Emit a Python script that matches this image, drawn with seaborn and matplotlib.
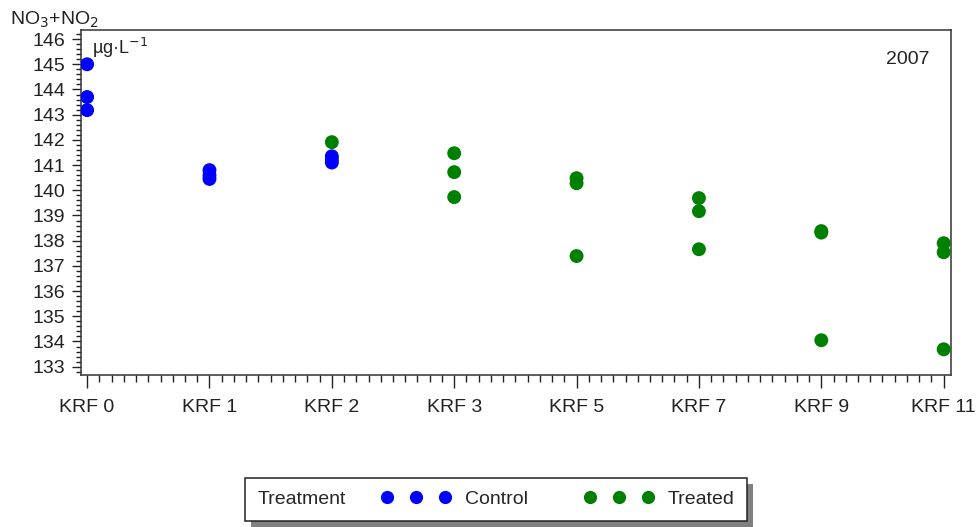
import matplotlib
matplotlib.use("Agg")
import matplotlib.pyplot as plt
from matplotlib.lines import Line2D
from matplotlib.patches import Rectangle
from matplotlib.ticker import MultipleLocator
from matplotlib.offsetbox import HPacker
import pandas as pd
import seaborn as sns

# sites along the x axis
site_labels = ["KRF 0", "KRF 1", "KRF 2", "KRF 3", "KRF 5", "KRF 7", "KRF 9", "KRF 11"]

# control samples (blue)
control_site = ["KRF 0", "KRF 0", "KRF 0", "KRF 1", "KRF 1", "KRF 1", "KRF 2", "KRF 2", "KRF 2"]
control_no3 = [145.0, 143.7, 143.18, 140.8, 140.6, 140.45, 141.35, 141.22, 141.1]

# treated samples (green)
treated_site = ["KRF 2", "KRF 3", "KRF 3", "KRF 3", "KRF 5", "KRF 5", "KRF 5",
                "KRF 7", "KRF 7", "KRF 7", "KRF 9", "KRF 9", "KRF 9",
                "KRF 11", "KRF 11", "KRF 11"]
treated_no3 = [141.91, 141.47, 140.72, 139.73, 140.48, 140.28, 137.39,
               139.69, 139.17, 137.66, 138.38, 138.32, 134.05,
               137.9, 137.54, 133.69]

df = pd.DataFrame({
    "site": control_site + treated_site,
    "no3": control_no3 + treated_no3,
    "Treatment": ["Control"] * len(control_no3) + ["Treated"] * len(treated_no3),
})

sns.set_theme(style="white")
plt.rcParams["font.family"] = ["Liberation Sans", "DejaVu Sans"]

colors = {"Control": "#0000FF", "Treated": "#008000"}

fig = plt.figure(figsize=(9.79, 5.27), dpi=100)
ax = fig.add_axes([81 / 979, 1 - 375 / 527, (951 - 81) / 979, (375 - 30) / 527])

sns.stripplot(data=df, x="site", y="no3", hue="Treatment", order=site_labels,
              palette=colors, jitter=False, dodge=False, size=10,
              linewidth=0, legend=False, ax=ax, zorder=3)

ax.set_xlim(-0.05, 7.06)
ax.set_ylim(132.67, 146.36)
ax.yaxis.set_major_locator(MultipleLocator(1))
ax.yaxis.set_minor_locator(MultipleLocator(0.2))
ax.xaxis.set_minor_locator(MultipleLocator(0.1))
ax.set_xlabel("")
ax.set_ylabel("")

ax.tick_params(axis="both", which="both", direction="out", colors="#222222",
               labelsize=14, labelcolor="#222222")
ax.tick_params(axis="y", which="major", length=6.5, width=1, pad=5, left=True)
ax.tick_params(axis="y", which="minor", length=3.5, width=1, left=True)
ax.tick_params(axis="x", which="major", length=9, width=1, pad=8, bottom=True)
ax.tick_params(axis="x", which="minor", length=5, width=1, bottom=True)

for sp in ax.spines.values():
    sp.set_color("#333333")
    sp.set_linewidth(1.1)
    sp.set_visible(True)
ax.grid(False)

# unit and year labels
fig.text(10 / 979, 1 - 25 / 527, "NO$_3$+NO$_2$", fontsize=14, color="#222222",
         va="baseline", ha="left")
ax.text(0.013, 0.93, "µg·L$^{-1}$", transform=ax.transAxes, fontsize=13,
        color="#222222", ha="left", va="baseline")
ax.text(0.975, 0.94, "2007", transform=ax.transAxes, fontsize=14,
        color="#222222", ha="right", va="top")

# legend in one row with the title on the left
handles = [
    Line2D([], [], linestyle="none", marker="o", markersize=9.5,
           markerfacecolor=colors["Control"], markeredgewidth=0),
    Line2D([], [], linestyle="none", marker="o", markersize=9.5,
           markerfacecolor=colors["Treated"], markeredgewidth=0),
]
leg = fig.legend(handles, ["Control", "Treated"], title="Treatment", ncol=2,
                 numpoints=3, loc="center", bbox_to_anchor=(0.507, 0.053),
                 fontsize=14, title_fontsize=14, frameon=True, fancybox=False,
                 edgecolor="#222222", framealpha=1, handlelength=3.6,
                 handletextpad=0.7, columnspacing=2.9, borderpad=0.65)
leg.get_frame().set_linewidth(1.1)
fs = leg._fontsize
leg._legend_box = HPacker(pad=leg.borderpad * fs, sep=1.8 * fs, align="center",
                          children=[leg._legend_title_box, leg._legend_handle_box])
leg._legend_box.set_figure(fig)
leg._legend_box.set_offset(leg._findoffset)
leg.set_zorder(5)

# grey drop shadow behind the legend box
fig.canvas.draw()
bb = leg.get_window_extent().transformed(fig.transFigure.inverted())
dx, dy = 6 / 979, 6 / 527
fig.add_artist(Rectangle((bb.x0 + dx, bb.y0 - dy), bb.width, bb.height,
                         transform=fig.transFigure, facecolor="#808080",
                         edgecolor="none", zorder=4))

fig.savefig("out.png", dpi=100)
